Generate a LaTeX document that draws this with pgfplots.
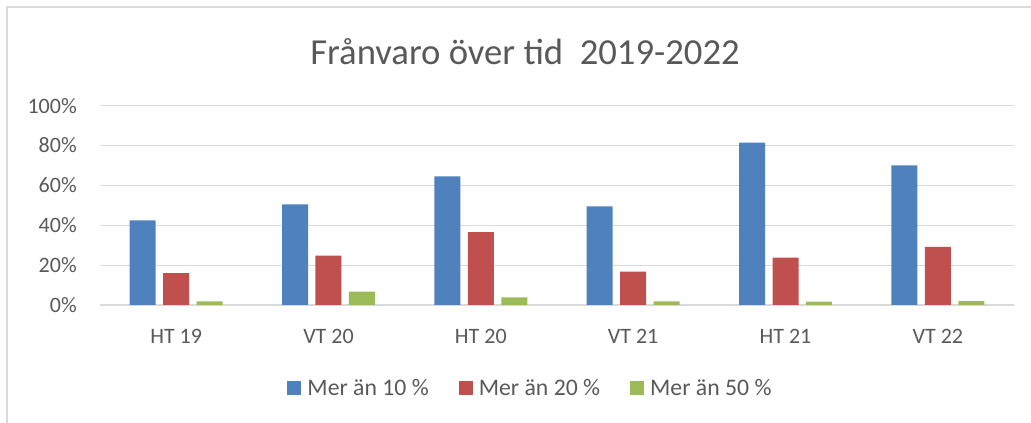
\documentclass[border=0pt]{standalone}
\usepackage{pgfplots}
\pgfplotsset{compat=1.18}
\usepackage{fontspec}
\setmainfont{Carlito}
\definecolor{cblue}{HTML}{4F81BD}
\definecolor{cred}{HTML}{C0504D}
\definecolor{cgreen}{HTML}{9BBB59}
\definecolor{ctext}{HTML}{595959}
\definecolor{cgrid}{HTML}{D9D9D9}
\begin{document}
\begin{tikzpicture}
\useasboundingbox (-75pt,-88.5pt) rectangle (698.25pt,228.75pt);
\draw[cgrid, line width=1.2pt] (-69.75pt,-88.5pt) -- (-69.75pt,223.5pt) -- (698.25pt,223.5pt);
\begin{axis}[
  at={(0,0)}, anchor=south west,
  scale only axis,
  width=685.5pt, height=149.5pt,
  xmin=-0.5, xmax=5.5, ymin=0, ymax=100,
  ybar=5.6pt, bar width=19.5pt,
  xtick={0,1,2,3,4,5},
  xticklabels={HT 19, VT 20, HT 20, VT 21, HT 21, VT 22},
  ytick={0,20,40,60,80,100},
  yticklabel={\pgfmathprintnumber{\tick}\%},
  /pgf/number format/assume math mode=true,
  axis line style={draw=none},
  major tick length=0pt,
  ymajorgrids,
  major grid style={cgrid, line width=0.9pt},
  tick label style={text=ctext, font=\fontsize{16.5pt}{18pt}\selectfont},
  yticklabel style={inner sep=0pt, anchor=east, xshift=-17.25pt},
  xticklabel style={inner sep=0pt, anchor=base, yshift=-29.25pt},
  legend style={at={(0.4699,-0.4165)}, anchor=center, draw=none, fill=none,
    legend columns=3, font=\fontsize{17.8pt}{19pt}\selectfont, text=ctext,
    nodes={inner sep=0pt},
    /tikz/every odd column/.append style={column sep=4.5pt},
    /tikz/every even column/.append style={column sep=22.5pt},
    inner sep=0pt},
  legend image code/.code={\fill[#1] (0pt,-5.25pt) rectangle (10.5pt,5.25pt);},
  legend cell align=left,
]
\addplot[fill=cblue, draw=none] coordinates {(0,42.5) (1,50.5) (2,64.5) (3,49.5) (4,81.5) (5,70)};
\addplot[fill=cred, draw=none] coordinates {(0,16) (1,24.8) (2,36.5) (3,16.8) (4,23.8) (5,29.2)};
\addplot[fill=cgreen, draw=none] coordinates {(0,1.8) (1,6.7) (2,3.8) (3,1.8) (4,1.7) (5,2)};
\legend{Mer än 10 \%, Mer än 20 \%, Mer än 50 \%}
\end{axis}
\node[anchor=base, inner sep=0pt, text=ctext, font=\fontsize{27.5pt}{30pt}\selectfont] at (318.75pt,180.5pt) {Frånvaro över tid\ \ 2019-2022};
\end{tikzpicture}
\end{document}
